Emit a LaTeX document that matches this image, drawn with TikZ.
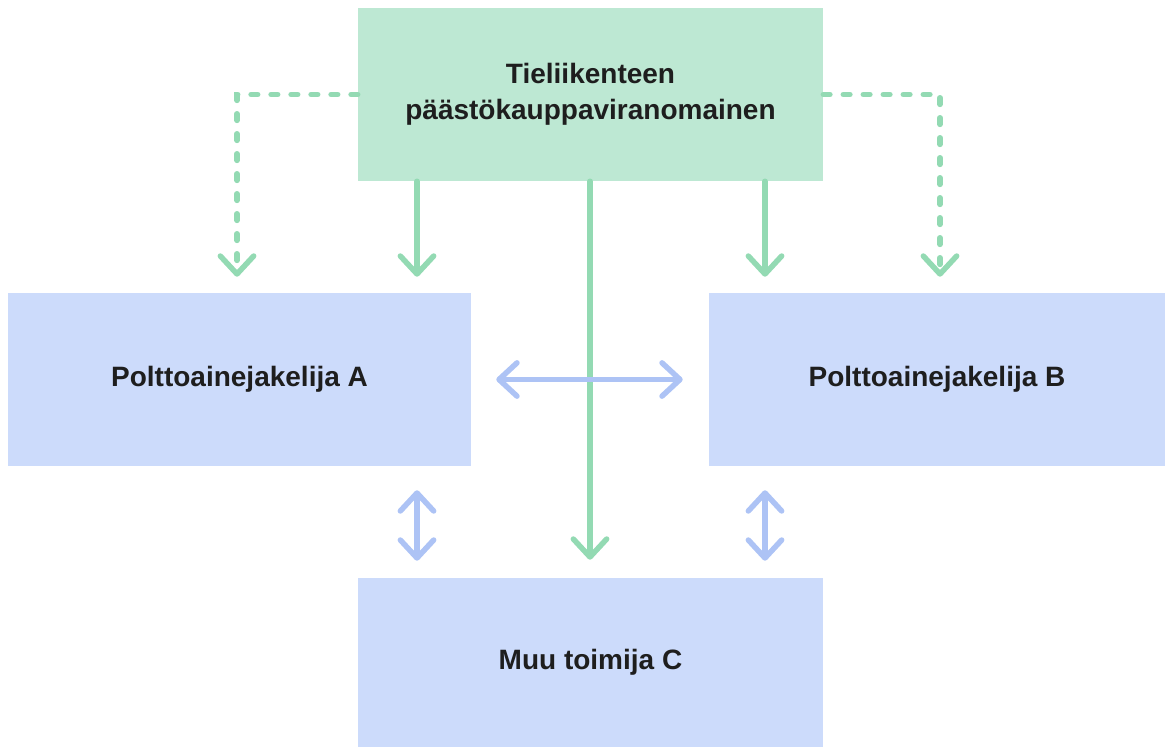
\documentclass[tikz,border=0pt]{standalone}
\usepackage{fontspec}
\setmainfont{Liberation Sans}
\usetikzlibrary{arrows.meta}
\definecolor{gfill}{HTML}{BDE8D3}
\definecolor{bfill}{HTML}{CCDBFB}
\definecolor{gline}{HTML}{93DAB3}
\definecolor{bline}{HTML}{ADC3F5}
\definecolor{txt}{HTML}{1E1E1E}
\tikzset{
  box/.style={rectangle, inner sep=0pt, text=txt, font=\bfseries\fontsize{21}{27}\selectfont, align=center},
  gbox/.style={box, fill=gfill},
  bbox/.style={box, fill=bfill},
  chev/.tip={Straight Barb[length=13.5pt, width=25pt, line cap=round, line join=round]},
  garrow/.style={draw=gline, line width=4.1pt, line cap=round, -{chev}},
  gdash/.style={garrow, dash pattern=on 5pt off 10pt},
  barrow/.style={draw=bline, line width=4.1pt, line cap=round, {chev}-{chev}},
}
\begin{document}
\begin{tikzpicture}[x=0.75pt,y=-0.75pt]
\useasboundingbox (0,0) rectangle (1165,747);
\node[gbox, minimum width=348.75pt, minimum height=129.75pt] (top) at (590.5,94.5) {Tieliikenteen\\päästökauppaviranomainen};
\node[bbox, minimum width=347.25pt, minimum height=129.75pt] (A) at (239.5,379.5) {Polttoainejakelija A};
\node[bbox, minimum width=342pt, minimum height=129.75pt] (B) at (937,379.5) {Polttoainejakelija B};
\node[bbox, minimum width=348.75pt, minimum height=126.75pt] (C) at (590.5,662.5) {Muu toimija C};
\coordinate (xdl) at (237,0);
\coordinate (xsl) at (417,0);
\coordinate (xsr) at (765,0);
\coordinate (xdr) at (940,0);
\coordinate (xc) at (590,0);
\draw[gdash, shorten >=12pt] (top.west) -| (A.north -| xdl);
\draw[gdash, shorten >=12pt] (top.east) -| (B.north -| xdr);
\draw[garrow, shorten >=12pt] (top.south -| xsl) -- (A.north -| xsl);
\draw[garrow, shorten >=12pt] (top.south -| xsr) -- (B.north -| xsr);
\draw[garrow, shorten >=13.5pt] (top.south -| xc) -- (C.north -| xc);
\draw[barrow, shorten <=18.75pt, shorten >=19.5pt] (A.east) -- (B.west);
\draw[barrow, shorten <=18pt, shorten >=12.75pt] (A.south -| xsl) -- (C.north -| xsl);
\draw[barrow, shorten <=18pt, shorten >=12.75pt] (B.south -| xsr) -- (C.north -| xsr);
\end{tikzpicture}
\end{document}
